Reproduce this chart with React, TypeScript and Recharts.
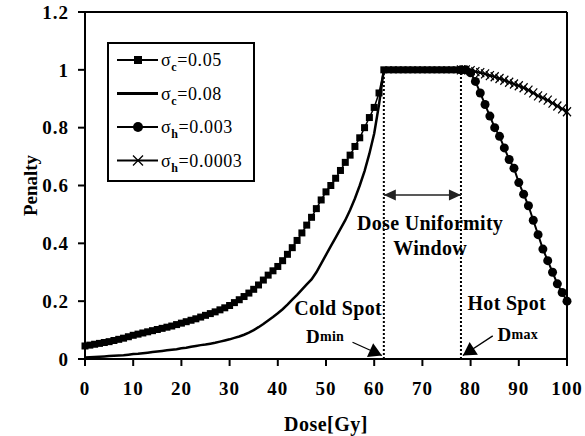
import React from 'react';
import { LineChart, Line, XAxis, YAxis, ReferenceLine, ReferenceDot, Label } from 'recharts';

const coldDose = [
  0, 1, 2, 3, 4, 5, 6, 7, 8, 9, 10, 11, 12, 13, 14, 15, 16, 17, 18, 19,
  20, 21, 22, 23, 24, 25, 26, 27, 28, 29, 30, 31, 32, 33, 34, 35, 36, 37, 38, 39,
  40, 41, 42, 43, 44, 45, 46, 47, 48, 49, 50, 51, 52, 53, 54, 55, 56, 57, 58, 59,
  60, 61, 62, 63, 64, 65, 66, 67, 68, 69, 70, 71, 72, 73, 74, 75, 76, 77, 78,
];
const sigmaC005 = [
  0.045, 0.048, 0.051, 0.054, 0.057, 0.06, 0.064, 0.068, 0.072, 0.077,
  0.082, 0.086, 0.09, 0.094, 0.098, 0.102, 0.106, 0.11, 0.114, 0.119,
  0.124, 0.129, 0.134, 0.139, 0.145, 0.151, 0.157, 0.163, 0.17, 0.177,
  0.185, 0.195, 0.205, 0.216, 0.228, 0.241, 0.256, 0.273, 0.29, 0.305,
  0.32, 0.34, 0.362, 0.385, 0.41, 0.436, 0.463, 0.49, 0.52, 0.55,
  0.578, 0.6, 0.625, 0.652, 0.68, 0.705, 0.735, 0.765, 0.8, 0.835,
  0.87, 0.92, 1, 1, 1, 1, 1, 1, 1, 1, 1, 1, 1, 1, 1, 1, 1, 1, 1,
];
const sigmaC008 = [
  0.005, 0.006, 0.007, 0.008, 0.009, 0.01, 0.011, 0.012, 0.013, 0.015,
  0.017, 0.018, 0.02, 0.022, 0.024, 0.026, 0.028, 0.03, 0.032, 0.034,
  0.037, 0.039, 0.042, 0.045, 0.048, 0.05, 0.053, 0.056, 0.06, 0.064,
  0.068, 0.073, 0.078, 0.084, 0.091, 0.1, 0.11, 0.121, 0.133, 0.145,
  0.158, 0.172, 0.188, 0.205, 0.222, 0.24, 0.258, 0.275, 0.3, 0.33,
  0.36, 0.39, 0.42, 0.45, 0.48, 0.515, 0.555, 0.6, 0.65, 0.71,
  0.78, 0.88, 1, 1, 1, 1, 1, 1, 1, 1, 1, 1, 1, 1, 1, 1, 1, 1, 1,
];
const hotDose = [78, 79, 80, 81, 82, 83, 84, 85, 86, 87, 88, 89, 90, 91, 92, 93, 94, 95, 96, 97, 98, 99, 100];
const sigmaH003 = [
  1, 1, 0.99, 0.96, 0.92, 0.88, 0.84, 0.8, 0.77, 0.73, 0.69, 0.66,
  0.61, 0.57, 0.53, 0.48, 0.43, 0.38, 0.34, 0.3, 0.26, 0.23, 0.2,
];
const sigmaH0003 = [
  1, 1, 0.997, 0.994, 0.99, 0.986, 0.98, 0.976, 0.97, 0.964, 0.957, 0.951,
  0.945, 0.938, 0.93, 0.92, 0.91, 0.903, 0.895, 0.885, 0.875, 0.865, 0.855,
];
const xTicks = [0, 10, 20, 30, 40, 50, 60, 70, 80, 90, 100];
const yTicks = [0, 0.2, 0.4, 0.6, 0.8, 1, 1.2];
const dMin = 62;
const dMax = 78;

const toPoints = (xs: number[], ys: number[]) => xs.map((d, i) => ({ dose: d, penalty: ys[i] }));
const dataC005 = toPoints(coldDose, sigmaC005);
const dataC008 = toPoints(coldDose, sigmaC008);
const dataH003 = toPoints(hotDose, sigmaH003);
const dataH0003 = toPoints(hotDose, sigmaH0003);

const FONT = 'Liberation Serif, Times New Roman, serif';

const SquareDot = (p: any) =>
  p.cx == null ? <g key={p.index} /> : (
    <rect key={p.index} x={p.cx - 3.5} y={p.cy - 3.5} width={7} height={7} fill="#000" />
  );
const CircleDot = (p: any) =>
  p.cx == null ? <g key={p.index} /> : <circle key={p.index} cx={p.cx} cy={p.cy} r={4.5} fill="#000" />;
const CrossDot = (p: any) =>
  p.cx == null ? <g key={p.index} /> : (
    <path
      key={p.index}
      d={`M${p.cx - 4},${p.cy - 4.5}L${p.cx + 4},${p.cy + 4.5}M${p.cx - 4},${p.cy + 4.5}L${p.cx + 4},${p.cy - 4.5}`}
      stroke="#000"
      strokeWidth={1.2}
    />
  );

const head = (x1: number, y1: number, x2: number, y2: number, len: number, w: number) => {
  const a = Math.atan2(y2 - y1, x2 - x1);
  const bx = x2 - len * Math.cos(a);
  const by = y2 - len * Math.sin(a);
  const px = -Math.sin(a) * w;
  const py = Math.cos(a) * w;
  return `M${x2},${y2}L${bx + px},${by + py}L${bx - px},${by - py}Z`;
};

const DoubleArrow = (p: any) => (
  <g>
    <line x1={p.x1} y1={p.y1} x2={p.x2} y2={p.y2} stroke="#222" strokeWidth={1.5} />
    <path d={head(p.x1, p.y1, p.x2, p.y2, 12, 5.5)} fill="#222" />
    <path d={head(p.x2, p.y2, p.x1, p.y1, 12, 5.5)} fill="#222" />
  </g>
);
const SingleArrow = (p: any) => (
  <g>
    <line x1={p.x1} y1={p.y1} x2={p.x2} y2={p.y2} stroke="#000" strokeWidth={1.3} />
    <path d={head(p.x1, p.y1, p.x2, p.y2, 13, 7.5)} fill="#000" />
  </g>
);

const textShape = (content: React.ReactNode, size = 20) => (p: any) => (
  <text
    x={p.cx}
    y={p.cy}
    textAnchor="middle"
    dominantBaseline="central"
    fontFamily={FONT}
    fontWeight="bold"
    fontSize={size}
    fill="#000"
    letterSpacing={0.3}
  >
    {content}
  </text>
);

const legendItems = [
  { sym: 'c', val: '=0.05', kind: 'square' },
  { sym: 'c', val: '=0.08', kind: 'line' },
  { sym: 'h', val: '=0.003', kind: 'circle' },
  { sym: 'h', val: '=0.0003', kind: 'cross' },
];

const LegendBox = () => (
  <svg width={150} height={142} style={{ position: 'absolute', left: 106, top: 41 }}>
    <rect x={2} y={2} width={146} height={138} fill="#fff" stroke="#000" strokeWidth={2} />
    {legendItems.map((it, i) => {
      const cy = 19 + i * 33.5;
      return (
        <g key={i}>
          <line x1={11} y1={cy} x2={52} y2={cy} stroke="#000" strokeWidth={it.kind === 'line' ? 3 : 2.2} />
          {it.kind === 'square' && <rect x={28} y={cy - 4} width={8} height={8} fill="#000" />}
          {it.kind === 'circle' && <circle cx={32} cy={cy} r={5} fill="#000" />}
          {it.kind === 'cross' && (
            <path d={`M${27},${cy - 5}L${37},${cy + 5}M${27},${cy + 5}L${37},${cy - 5}`} stroke="#000" strokeWidth={1.3} />
          )}
          <text x={55} y={cy + 6} fontFamily={FONT} fontSize={18} fill="#000" letterSpacing={0.6}>
            σ
            <tspan fontSize={12} fontWeight="bold" dy={5}>{it.sym}</tspan>
            <tspan dy={-5}>{it.val}</tspan>
          </text>
        </g>
      );
    })}
  </svg>
);

const tickStyle = { fill: '#000', fontSize: 19, fontWeight: 'bold', fontFamily: FONT, letterSpacing: 1 };

export default function App() {
  return (
    <div style={{ position: 'absolute', left: 0, top: 0, width: 585, height: 436, background: '#fff' }}>
      <LineChart width={585} height={436} margin={{ top: 12, right: 18, left: 0, bottom: 0 }}>
        <XAxis
          type="number"
          dataKey="dose"
          domain={[0, 100]}
          ticks={xTicks}
          height={77}
          tick={tickStyle}
          tickSize={7}
          tickMargin={16}
          axisLine={{ stroke: '#000', strokeWidth: 2 }}
          tickLine={{ stroke: '#000', strokeWidth: 2 }}
          allowDuplicatedCategory={false}
        >
          <Label
            content={(props: any) => {
              const vb = props.viewBox;
              return (
                <text
                  x={vb.x + vb.width / 2}
                  y={vb.y + 72}
                  textAnchor="middle"
                  fontFamily={FONT}
                  fontWeight="bold"
                  fontSize={20}
                  fill="#000"
                  letterSpacing={0.5}
                >
                  Dose[Gy]
                </text>
              );
            }}
          />
        </XAxis>
        <YAxis
          type="number"
          domain={[0, 1.2]}
          ticks={yTicks}
          width={85}
          tick={tickStyle}
          tickSize={7}
          tickMargin={9}
          axisLine={{ stroke: '#000', strokeWidth: 2 }}
          tickLine={{ stroke: '#000', strokeWidth: 2 }}
        >
          <Label
            content={(props: any) => {
              const vb = props.viewBox;
              const x = 30;
              const y = vb.y + vb.height / 2;
              return (
                <text
                  x={x}
                  y={y}
                  transform={`rotate(-90 ${x} ${y})`}
                  textAnchor="middle"
                  dominantBaseline="central"
                  fontFamily={FONT}
                  fontWeight="bold"
                  fontSize={19}
                  fill="#000"
                >
                  Penalty
                </text>
              );
            }}
          />
        </YAxis>
        <ReferenceLine y={1.2} stroke="#000" strokeWidth={2} />
        <ReferenceLine x={100} stroke="#000" strokeWidth={2} />
        <ReferenceLine segment={[{ x: dMin, y: 0 }, { x: dMin, y: 1 }]} stroke="#000" strokeWidth={2} strokeDasharray="2 2" />
        <ReferenceLine segment={[{ x: dMax, y: 0 }, { x: dMax, y: 1 }]} stroke="#000" strokeWidth={2} strokeDasharray="2 2" />
        <ReferenceLine segment={[{ x: dMin, y: 0.567 }, { x: dMax, y: 0.567 }]} shape={DoubleArrow} />
        <ReferenceLine segment={[{ x: 55.5, y: 0.058 }, { x: 61.6, y: 0.012 }]} shape={SingleArrow} />
        <ReferenceLine segment={[{ x: 84.6, y: 0.08 }, { x: 78.4, y: 0.012 }]} shape={SingleArrow} />

        <Line data={dataC005} dataKey="penalty" stroke="#000" strokeWidth={1.5} dot={SquareDot} activeDot={false} isAnimationActive={false} />
        <Line data={dataC008} dataKey="penalty" stroke="#000" strokeWidth={2.5} dot={false} activeDot={false} isAnimationActive={false} />
        <Line data={dataH003} dataKey="penalty" stroke="#000" strokeWidth={2} dot={CircleDot} activeDot={false} isAnimationActive={false} />
        <Line data={dataH0003} dataKey="penalty" stroke="#000" strokeWidth={2.2} dot={CrossDot} activeDot={false} isAnimationActive={false} />

        <ReferenceDot x={71.6} y={0.47} r={1} shape={textShape('Dose Uniformity')} />
        <ReferenceDot x={71.6} y={0.384} r={1} shape={textShape('Window')} />
        <ReferenceDot x={52.5} y={0.176} r={1} shape={textShape('Cold Spot')} />
        <ReferenceDot x={87.5} y={0.194} r={1} shape={textShape('Hot Spot')} />
        <ReferenceDot
          x={49.8}
          y={0.078}
          r={1}
          shape={textShape(
            <>
              D<tspan fontSize={14}>min</tspan>
            </>,
            19
          )}
        />
        <ReferenceDot
          x={89.8}
          y={0.085}
          r={1}
          shape={textShape(
            <>
              D<tspan fontSize={14}>max</tspan>
            </>,
            19
          )}
        />
      </LineChart>
      <LegendBox />
    </div>
  );
}
